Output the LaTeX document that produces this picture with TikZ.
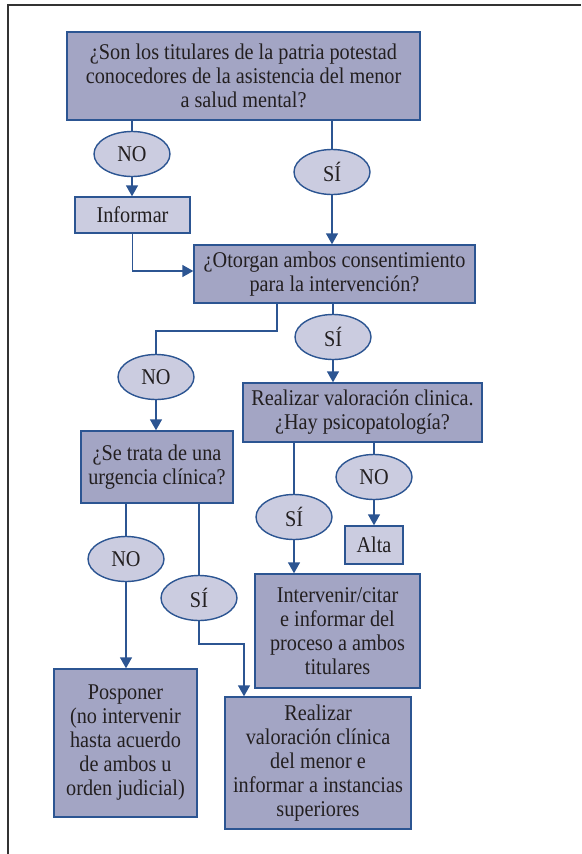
\documentclass[tikz,border=0pt]{standalone}
\usepackage{fontspec}
\setmainfont{Liberation Serif}[FakeStretch=0.9]
\usetikzlibrary{arrows.meta,shapes.geometric,calc}
\definecolor{bdark}{HTML}{A3A5C4}
\definecolor{blight}{HTML}{CBCCE0}
\definecolor{bline}{HTML}{2C5592}
\definecolor{txt}{HTML}{231F20}
\definecolor{framec}{HTML}{333333}
\tikzset{
  base/.style={draw=bline, line width=1.4pt, text=txt, align=center, inner sep=0pt,
    font=\fontsize{22.5}{24}\selectfont},
  darkbox/.style={base, rectangle, fill=bdark},
  lightbox/.style={base, rectangle, fill=blight},
  oval/.style={base, ellipse, fill=blight, minimum width=76pt, minimum height=45pt},
  conn/.style={draw=bline, line width=1.4pt},
  arr/.style={conn, -{Triangle[width=12pt,length=11pt]}},
}
\begin{document}
\begin{tikzpicture}[x=1pt,y=-1pt]
\useasboundingbox (0,0) rectangle (581,854);
\draw[framec, line width=2pt] (8,854) -- (8,5) -- (581,5);

\node[darkbox, minimum width=353pt, minimum height=88pt] (b1) at (243.5,76)
  {¿Son los titulares de la patria potestad\\conocedores de la asistencia del menor\\a salud mental?};
\node[oval] (no1) at (132,154) {NO};
\node[oval] (si1) at (332,172) {SÍ};
\node[lightbox, minimum width=115pt, minimum height=36pt] (inf) at (132.5,215) {Informar};
\node[darkbox, minimum width=281pt, minimum height=58pt] (b2) at (334.5,274)
  {¿Otorgan ambos consentimiento\\para la intervención?};
\node[oval] (no2) at (156,377) {NO};
\node[oval] (si2) at (333,337) {SÍ};
\node[darkbox, minimum width=152pt, minimum height=72pt] (b3) at (157,467)
  {¿Se trata de una\\urgencia clínica?};
\node[darkbox, minimum width=239pt, minimum height=59pt] (b4) at (362.5,412.5)
  {Realizar valoración clinica.\\¿Hay psicopatología?};
\node[oval] (no3) at (374,477) {NO};
\node[oval] (si3) at (294,517) {SÍ};
\node[lightbox, minimum width=58pt, minimum height=38pt] (alta) at (374,545) {Alta};
\node[darkbox, minimum width=165pt, minimum height=114pt] (b5) at (337.5,631)
  {Intervenir/citar\\e informar del\\proceso a ambos\\titulares};
\node[oval] (no4) at (126,559) {NO};
\node[oval] (si4) at (199,598) {SÍ};
\node[darkbox, minimum width=143pt, minimum height=148pt] (b6) at (125.5,743)
  {Posponer\\(no intervenir\\hasta acuerdo\\de ambos u\\orden judicial)};
\node[darkbox, minimum width=186pt, minimum height=132pt] (b7) at (318,763)
  {Realizar\\valoración clínica\\del menor e\\informar a instancias\\superiores};

\coordinate (k1) at (156,331);
\coordinate (k2) at (244,644);
\coordinate (k3) at (277,303);

\draw[conn] (no1.north |- b1.south) -- (no1.north);
\draw[arr] (no1.south) -- (no1.south |- inf.north);
\draw[conn] (si1.north |- b1.south) -- (si1.north);
\draw[arr] (si1.south) -- (si1.south |- b2.north);
\draw[arr] (inf.south) |- ([yshift=3pt]b2.west);
\draw[conn] (k3) |- (k1) -- (no2.north);
\draw[arr] (no2.south) -- (no2.south |- b3.north);
\draw[conn] (si2.north |- b2.south) -- (si2.north);
\draw[arr] (si2.south) -- (si2.south |- b4.north);
\draw[conn] (no3.north |- b4.south) -- (no3.north);
\draw[arr] (no3.south) -- (no3.south |- alta.north);
\draw[conn] (si3.north |- b4.south) -- (si3.north);
\draw[arr] (si3.south) -- (si3.south |- b5.north);
\draw[conn] (no4.north |- b3.south) -- (no4.north);
\draw[arr] (no4.south) -- (no4.south |- b6.north);
\draw[conn] (si4.north |- b3.south) -- (si4.north);
\draw[arr] (si4.south) |- (k2) -- (k2 |- b7.north);
\end{tikzpicture}
\end{document}
